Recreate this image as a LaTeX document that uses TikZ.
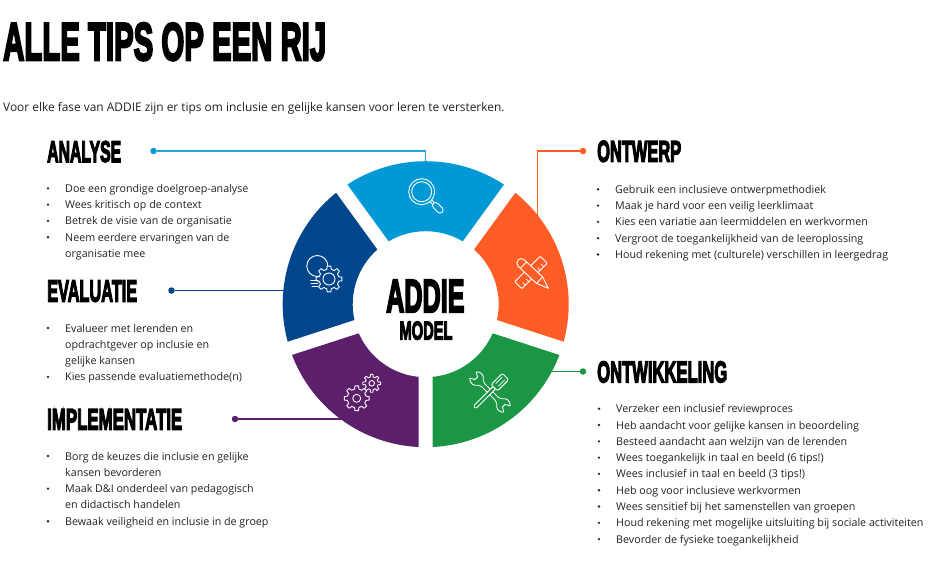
\documentclass[tikz,border=0pt]{standalone}
\usepackage{fontspec}
\usepackage{graphicx}
\setmainfont{Open Sans}
\newfontfamily\headfont{Liberation Sans}[UprightFont=* Bold,FakeBold=5]
\usetikzlibrary{positioning}
\usetikzlibrary{calc}
\definecolor{analysec}{HTML}{0099D6}
\definecolor{ontwerpc}{HTML}{FF5C26}
\definecolor{ontwikkelc}{HTML}{1A9645}
\definecolor{implemc}{HTML}{5C1F6B}
\definecolor{evalc}{HTML}{00468C}
\definecolor{tiptext}{HTML}{222222}
\tikzstyle{head}=[anchor=base west, inner sep=0]
\tikzstyle{tip}=[anchor=base west, inner sep=0, text=tiptext, font=\fontsize{10.7}{14}\selectfont]
\tikzstyle{tipmark}=[circle, fill=tiptext, inner sep=0, minimum size=2.6pt]
\tikzstyle{dot}=[circle, inner sep=0, minimum size=6.5pt]
\tikzstyle{link}=[line width=1.5pt]
\tikzstyle{icon}=[draw=white, line width=0.9pt, line join=round, line cap=round]
% width, cap height, text
\newcommand{\headtxt}[3]{\resizebox{#1pt}{#2pt}{\headfont #3}}
% colour, middle angle
\newcommand{\sector}[2]{
  \fill [#1] ({#2-33.2}:143pt) arc [start angle={#2-33.2}, end angle={#2+33.2}, radius=143pt]
    -- ({#2+30.5}:73pt) arc [start angle={#2+30.5}, end angle={#2-30.5}, radius=73pt] -- cycle;
}
% name, x, y, flag/line list
\newcommand{\tiplist}[4]{
  \foreach \flag/\txt [count=\i from 0] in {#4} {
    \node [tip] (#1-\i) at (#2+17, {#3+16.3*\i}) {\txt};
    \ifnum\flag=1 \node [tipmark] (#1-mark-\i) at (#2, {#3+16.3*\i-4}) {}; \fi
  }
}
% x, y, teeth radius in, out, hole, fill
\newcommand{\gearicon}[6]{
  \begin{scope}[shift={(#1,#2)}]
    \draw [icon, fill=#6] (-13:#3) \foreach \a in {0,45,...,315} {
      -- (\a-13:#3) -- (\a-8:#4) -- (\a+8:#4) -- (\a+13:#3) } -- cycle;
    \draw [icon] (0,0) circle (#5);
  \end{scope}
}

\begin{document}
\begin{tikzpicture}[x=1pt, y=-1pt]
    \useasboundingbox (0,0) rectangle (932,560);

    \node [head] (title) at (3,60) {\headtxt{323}{37}{ALLE TIPS OP EEN RIJ}};
    \node [tip, font=\fontsize{11.9}{14}\selectfont] (intro) at (3,111.7) {Voor elke fase van ADDIE zijn er tips om inclusie en gelijke kansen voor leren te versterken.};

    \node [head] (analyse) at (47,162) {\headtxt{74}{21}{ANALYSE}};
    \node [head] (evaluatie) at (47,301.5) {\headtxt{90}{21}{EVALUATIE}};
    \node [head] (implementatie) at (47,429.5) {\headtxt{135}{20.5}{IMPLEMENTATIE}};
    \node [head] (ontwerp) at (597,161.7) {\headtxt{84}{21}{ONTWERP}};
    \node [head] (ontwikkeling) at (597,382.3) {\headtxt{130}{21}{ONTWIKKELING}};

    \tiplist{analyse-tip}{48}{192.3}{1/Doe een grondige doelgroep-analyse, 1/Wees kritisch op de context,
      1/Betrek de visie van de organisatie, 1/Neem eerdere ervaringen van de, 0/organisatie mee}
    \tiplist{evaluatie-tip}{48}{332}{1/Evalueer met lerenden en, 0/opdrachtgever op inclusie en,
      0/gelijke kansen, 1/Kies passende evaluatiemethode(n)}
    \tiplist{implementatie-tip}{48}{460}{1/Borg de keuzes die inclusie en gelijke, 0/kansen bevorderen,
      1/Maak D\&I onderdeel van pedagogisch, 0/en didactisch handelen, 1/Bewaak veiligheid en inclusie in de groep}
    \tiplist{ontwerp-tip}{598}{193.3}{1/Gebruik een inclusieve ontwerpmethodiek, 1/Maak je hard voor een veilig leerklimaat,
      1/Kies een variatie aan leermiddelen en werkvormen, 1/Vergroot de toegankelijkheid van de leeroplossing,
      1/Houd rekening met (culturele) verschillen in leergedrag}
    \tiplist{ontwikkeling-tip}{599}{412.7}{1/Verzeker een inclusief reviewproces, 1/Heb aandacht voor gelijke kansen in beoordeling,
      1/Besteed aandacht aan welzijn van de lerenden, 1/Wees toegankelijk in taal en beeld (6 tips!),
      1/Wees inclusief in taal en beeld (3 tips!), 1/Heb oog voor inclusieve werkvormen,
      1/Wees sensitief bij het samenstellen van groepen, 1/Houd rekening met mogelijke uitsluiting bij sociale activiteiten,
      1/Bevorder de fysieke toegankelijkheid}

    \node [dot, fill=analysec] (analyse-dot) at (153.5,151) {};
    \node [dot, fill=ontwerpc] (ontwerp-dot) at (583,151) {};
    \node [dot, fill=evalc] (evaluatie-dot) at (171.5,290.5) {};
    \node [dot, fill=implemc] (implementatie-dot) at (235,419) {};
    \node [dot, fill=ontwikkelc] (ontwikkeling-dot) at (583,371.5) {};

    \coordinate (analyse-end) at (425.5,166);
    \coordinate (ontwerp-end) at (537.5,222);
    \coordinate (evaluatie-end) at (290,290.5);
    \coordinate (implementatie-end) at (345,419);
    \coordinate (ontwikkeling-end) at (548,371.5);

    \draw [link, color=analysec!85!white] (analyse-dot) -| (analyse-end);
    \draw [link, color=ontwerpc] (ontwerp-dot) -| (ontwerp-end);
    \draw [link, color=evalc] (evaluatie-dot) -- (evaluatie-end);
    \draw [link, color=implemc] (implementatie-dot) -- (implementatie-end);
    \draw [link, color=ontwikkelc] (ontwikkeling-dot) -- (ontwikkeling-end);

    \begin{scope}[shift={(425.7,304.2)}, y=1pt]
      \sector{analysec}{90}
      \sector{ontwerpc}{18}
      \sector{ontwikkelc}{-54}
      \sector{implemc}{-126}
      \sector{evalc}{162}
    \end{scope}

    \node [head] (addie) at (386,312) {\headtxt{78.3}{32}{ADDIE}};
    \node [head] (model) at (399.3,339.5) {\headtxt{53}{18}{MODEL}};

    % loep
    \draw [icon] (421.7,191.7) circle (13) (421.7,191.7) circle (10);
    \begin{scope}[shift={(430.9,200.9)}, rotate=-45]
      \draw [icon] (0,-1.2) -- (3.5,-1.2) (0,1.2) -- (3.5,1.2);
      \draw [icon, rounded corners=2.9] (3.5,-3) rectangle (16,3);
    \end{scope}

    % liniaal en potlood
    \begin{scope}[shift={(531,272.5)}, rotate=45]
      \draw [icon, rounded corners=1] (-18,-5) rectangle (18,5);
      \foreach \t in {-13,-8,8,13} \draw [icon, line width=0.7pt] (\t,5) -- (\t,1.5);
    \end{scope}
    \begin{scope}[shift={(533,274)}, rotate=-43]
      \draw [icon, fill=ontwerpc] (9,-4.5) -- (-16,-4.5) arc (270:90:4.5) -- (9,4.5) -- (21,0) -- cycle;
      \draw [icon] (-13,-4.5) -- (-13,4.5) (9,-4.5) -- (9,4.5);
    \end{scope}

    % sleutel en spatel
    \begin{scope}[shift={(490,392)}, rotate=-45]
      \draw [icon] (-10,2.2) -- (-13,3.5) .. controls (-16,8) and (-21,8) .. (-24,4.5) -- (-19.5,1.8) -- (-19.5,-1.8)
        -- (-24,-4.5) .. controls (-21,-8) and (-16,-8) .. (-13,-3.5) -- (-10,-2.2) -- (10,-2.2) -- (13,-3.5)
        .. controls (16,-8) and (21,-8) .. (24,-4.5) -- (19.5,-1.8) -- (19.5,1.8) -- (24,4.5)
        .. controls (21,8) and (16,8) .. (13,3.5) -- (10,2.2) -- cycle;
    \end{scope}
    \begin{scope}[shift={(490,392)}, rotate=45]
      \draw [icon, fill=ontwikkelc, rounded corners=1.4] (-22,-1.7) rectangle (6,1.7);
      \draw [icon, fill=ontwikkelc, rounded corners=2] (6,-4.5) rectangle (22,4.5);
      \draw [icon, line width=0.7pt] (10,-1.8) -- (19,-1.8) (10,1.8) -- (19,1.8);
    \end{scope}

    % tandwielen
    \gearicon{356.7}{398.3}{9.5}{12.5}{4}{implemc}
    \gearicon{371.7}{383.3}{6.5}{9}{2.8}{implemc}

    % lamp en tandwiel
    \draw [icon] (317.3,266) circle (10.5);
    \gearicon{329}{279}{10}{13}{6}{evalc}
    \draw [icon] (310.5,280) -- (318,280) (311,283) -- (318,283) (312,286) -- (318,286);
\end{tikzpicture}
\end{document}
